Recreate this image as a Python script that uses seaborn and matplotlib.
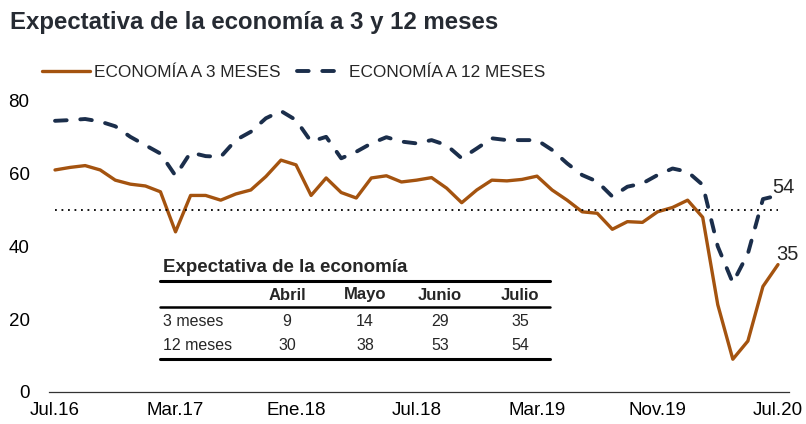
import numpy as np
import pandas as pd
import seaborn as sns
import matplotlib.pyplot as plt
from matplotlib.lines import Line2D

# monthly data, Jul.16 .. Jul.20
meses = np.arange(49)
tres_meses = [61, 61.7, 62.2, 61, 58.2, 57.1, 56.6, 55, 44, 54, 54, 52.7, 54.4, 55.5, 59.2,
              63.7, 62.4, 54, 58.8, 54.8, 53.3, 58.8, 59.4, 57.7, 58.2, 58.9, 56, 52, 55.5,
              58.2, 58, 58.4, 59.3, 55.5, 52.7, 49.5, 49.1, 44.7, 46.8, 46.6, 49.5, 50.7,
              52.7, 48, 24, 9, 14, 29, 35]
doce_meses = [74.5, 74.7, 75, 74.3, 73, 70.1, 67.8, 65.5, 59.4, 65.8, 64.8, 64.6, 69.2, 71.5,
              75.2, 77.2, 74.7, 68.8, 70.1, 64.2, 66, 68.3, 70, 68.8, 68.3, 69.2, 67.8, 64.2,
              66.9, 69.7, 69.2, 69.2, 69.2, 66.5, 62.8, 59.6, 57.8, 53.7, 56.4, 57.3, 59.6,
              61.4, 60.5, 56.9, 40, 30, 38, 53, 54]
tick_pos = [0, 8, 16, 24, 32, 40, 48]
tick_lab = ['Jul.16', 'Mar.17', 'Ene.18', 'Jul.18', 'Mar.19', 'Nov.19', 'Jul.20']
umbral = 50

# small table
tabla_cols = ['Abril', 'Mayo', 'Junio', 'Julio']
tabla_3m = [9, 14, 29, 35]
tabla_12m = [30, 38, 53, 54]

sns.set_style('white')
plt.rcParams['font.family'] = ['Liberation Sans', 'DejaVu Sans']

c_tres = '#A4530F'
c_doce = '#1B2E4B'
c_txt = '#262B33'

W, H = 806, 424
fig = plt.figure(figsize=(W / 100, H / 100), dpi=100)
ax = fig.add_axes([49 / W, (H - 392) / H, 740 / W, 309.4 / H])


def fx(px):
    return px / W


def fy(py):
    return 1 - py / H


sns.lineplot(x=meses, y=tres_meses, ax=ax, color=c_tres, lw=2.4,
             label='ECONOMÍA A 3 MESES', solid_capstyle='round')
sns.lineplot(x=meses, y=doce_meses, ax=ax, color=c_doce, lw=2.8,
             linestyle=(0, (3.0, 3.5)), dash_capstyle='round',
             label='ECONOMÍA A 12 MESES')
ax.hlines(umbral, meses[0], meses[-1], color='black', lw=1.3, linestyles=(0, (1, 2.6)))

ax.set_xlim(-0.4, 48.73)
ax.set_ylim(0, 85)
ax.set_yticks([0, 20, 40, 60, 80])
ax.set_xticks(tick_pos, tick_lab)
ax.tick_params(axis='both', length=0, labelsize=13.5, labelcolor='black')
ax.tick_params(axis='y', pad=14)
ax.tick_params(axis='x', pad=7)
for s in ['left', 'right', 'top']:
    ax.spines[s].set_visible(False)
ax.spines['bottom'].set_color('#333333')
ax.spines['bottom'].set_linewidth(0.9)

ax.annotate(str(doce_meses[-1]), (meses[-1], doce_meses[-1]), xytext=(-4.5, 2),
            textcoords='offset points', ha='left', va='baseline', fontsize=14.5)
ax.annotate(str(tres_meses[-1]), (meses[-1], tres_meses[-1]), xytext=(-1.5, 3.3),
            textcoords='offset points', ha='left', va='baseline', fontsize=14.5)

h, l = ax.get_legend_handles_labels()
ax.get_legend().remove()
fig.legend(h, l, loc='center left', bbox_to_anchor=(fx(42), fy(72)), frameon=False,
           ncol=2, fontsize=12.4, handlelength=2.8, handletextpad=0.2,
           columnspacing=1.0, borderpad=0, borderaxespad=0)

fig.text(fx(10), fy(23), 'Expectativa de la economía a 3 y 12 meses', fontsize=17.3,
         fontweight='bold', color=c_txt, va='center', ha='left')

# table
fig.text(fx(163), fy(268), 'Expectativa de la economía', fontsize=13.5, fontweight='bold',
         va='center', ha='left')
for yy, lw in [(281, 2.2), (307, 1.8), (359, 2.2)]:
    fig.add_artist(Line2D([fx(160), fx(550)], [fy(yy), fy(yy)], color='black', lw=lw))
col_x = [287, 365, 440, 520]
for cx, name, v3, v12 in zip(col_x, tabla_cols, tabla_3m, tabla_12m):
    fig.text(fx(cx), fy(295), name, fontsize=12, fontweight='bold', ha='center', va='center')
    fig.text(fx(cx), fy(322), str(v3), fontsize=11.5, ha='center', va='center')
    fig.text(fx(cx), fy(346), str(v12), fontsize=11.5, ha='center', va='center')
fig.text(fx(163), fy(322), '3 meses', fontsize=11.5, ha='left', va='center')
fig.text(fx(163), fy(346), '12 meses', fontsize=11.5, ha='left', va='center')

plt.savefig('out.png', dpi=100)
